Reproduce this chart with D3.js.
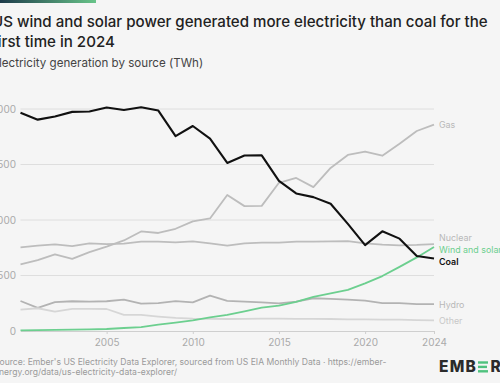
<!DOCTYPE html>
<meta charset="utf-8">
<style>
  body { margin: 0; background: #f5f5f5; }
  svg { display: block; font-family: Inter, "Noto Sans", sans-serif; }
</style>
<script src="https://d3js.org/d3.v7.min.js"></script>
<div id="chart"></div>
<script>
// years 2000..2024
var years = d3.range(2000, 2025);

var coal = [1966, 1904, 1933, 1974, 1978, 2013, 1991, 2016, 1986, 1756, 1847, 1733, 1514, 1581, 1582, 1352, 1239, 1206, 1146, 965, 774, 898, 832, 675, 653];
var gas = [601, 639, 691, 650, 710, 761, 816, 897, 883, 921, 988, 1014, 1226, 1125, 1127, 1335, 1379, 1296, 1469, 1586, 1617, 1579, 1687, 1802, 1860];
var nuclear = [754, 769, 780, 764, 789, 782, 787, 806, 806, 799, 807, 790, 769, 789, 797, 797, 805, 805, 807, 809, 790, 778, 772, 775, 782];
var windSolar = [6, 7, 11, 12, 15, 18, 27, 35, 57, 75, 96, 122, 145, 177, 210, 229, 263, 307, 338, 370, 429, 495, 578, 663, 757];
var hydro = [270, 208, 261, 268, 265, 268, 283, 247, 252, 270, 258, 318, 272, 265, 257, 248, 265, 295, 290, 283, 273, 252, 252, 243, 243];
var other = [192, 205, 175, 200, 200, 198, 145, 145, 130, 118, 112, 110, 108, 110, 112, 112, 110, 110, 108, 105, 104, 102, 103, 98, 96];

var seriesNames = ["Gas", "Nuclear", "Hydro", "Other", "Wind and solar", "Coal"];
var seriesValues = [gas, nuclear, hydro, other, windSolar, coal];
var seriesColors = ["#bdbdbd", "#bdbdbd", "#b3b3b3", "#d6d6d6", "#6ccf8f", "#111111"];
var labelColors = ["#b8b8b8", "#b8b8b8", "#b8b8b8", "#c8c8c8", "#6ccf8f", "#111111"];

var yTicks = [0, 500, 1000, 1500, 2000];
var xTicks = [2005, 2010, 2015, 2020, 2024];

var W = 500, H = 383;
var svg = d3.select("#chart").append("svg")
  .attr("width", W).attr("height", H);

svg.append("rect").attr("width", W).attr("height", H).attr("fill", "#f5f5f5");

// top brand bar
var grad = svg.append("defs").append("linearGradient").attr("id", "bar");
grad.append("stop").attr("offset", "0%").attr("stop-color", "#1d3b4a");
grad.append("stop").attr("offset", "100%").attr("stop-color", "#68c489");
svg.append("rect").attr("x", 0).attr("y", 0).attr("width", 96).attr("height", 3).attr("fill", "url(#bar)");

// title (the reference crops its left edge a little)
svg.append("text").attr("x", -8).attr("y", 27)
  .attr("font-size", 15.1).attr("font-weight", 500).attr("fill", "#222")
  .text("US wind and solar power generated more electricity than coal for the");
svg.append("text").attr("x", -8).attr("y", 47)
  .attr("font-size", 15.1).attr("font-weight", 500).attr("fill", "#222")
  .text("first time in 2024");
svg.append("text").attr("x", -8).attr("y", 67)
  .attr("font-size", 11.6).attr("fill", "#444")
  .text("Electricity generation by source (TWh)");

var x = d3.scaleLinear().domain([2000, 2024]).range([20.5, 434]);
var y = d3.scaleLinear().domain([0, 2000]).range([331, 109]);

// gridlines
svg.append("g").selectAll("line").data(yTicks.slice(1)).enter().append("line")
  .attr("x1", x(2000)).attr("x2", x(2024))
  .attr("y1", function(d) { return y(d); }).attr("y2", function(d) { return y(d); })
  .attr("stroke", "#dedede").attr("stroke-width", 1);

// y labels
svg.append("g").selectAll("text").data(yTicks).enter().append("text")
  .attr("x", 16).attr("y", function(d) { return y(d) + 3.5; })
  .attr("text-anchor", "end").attr("font-size", 10).attr("fill", "#aaa")
  .text(function(d) { return d3.format(",")(d); });

// x axis
var xAxis = svg.append("g").attr("transform", "translate(0," + y(0) + ")")
  .call(d3.axisBottom(x).tickValues(xTicks).tickFormat(d3.format("d")).tickSize(3).tickSizeOuter(0));
xAxis.select(".domain").attr("stroke", "#cfcfcf");
xAxis.selectAll(".tick line").attr("stroke", "#cfcfcf");
xAxis.selectAll(".tick text").attr("fill", "#aaa").attr("font-size", 10)
  .attr("font-family", "Inter, 'Noto Sans', sans-serif").attr("dy", "0.9em");

// lines
var line = d3.line()
  .x(function(d, i) { return x(years[i]); })
  .y(function(d) { return y(d); });

svg.append("g").selectAll("path").data(seriesValues).enter().append("path")
  .attr("fill", "none")
  .attr("stroke", function(d, i) { return seriesColors[i]; })
  .attr("stroke-width", function(d, i) { return seriesNames[i] == "Coal" ? 2.1 : 1.8; })
  .attr("stroke-linejoin", "round")
  .attr("d", line);

// end labels, dodged so they don't overlap
var labels = seriesNames.map(function(n, i) {
  var v = seriesValues[i];
  return { name: n, i: i, y: y(v[v.length - 1]) };
});
labels.sort(function(a, b) { return a.y - b.y; });
for (var k = 0; k < 50; k++) {
  for (var j = 1; j < labels.length; j++) {
    var gap = labels[j].y - labels[j - 1].y;
    if (gap < 12) {
      var push = (12 - gap) / 2;
      labels[j].y += push;
      labels[j - 1].y -= push;
    }
  }
}
svg.append("g").selectAll("text").data(labels).enter().append("text")
  .attr("x", x(2024) + 5)
  .attr("y", function(d) { return d.y + 3.5; })
  .attr("font-size", 8.9)
  .attr("font-weight", function(d) { return d.name == "Coal" ? 600 : 400; })
  .attr("fill", function(d) { return labelColors[d.i]; })
  .text(function(d) { return d.name; });

// source
svg.append("text").attr("x", -6).attr("y", 364.5)
  .attr("font-size", 8.6).attr("fill", "#9a9a9a")
  .text("Source: Ember's US Electricity Data Explorer, sourced from US EIA Monthly Data · https://ember-");
svg.append("text").attr("x", -6).attr("y", 375)
  .attr("font-size", 8.6).attr("fill", "#9a9a9a")
  .text("energy.org/data/us-electricity-data-explorer/");

// logo: EMB, three green bars for the E, then R
var logo = svg.append("g");
var emb = logo.append("text").attr("x", 439).attr("y", 372.3)
  .attr("font-size", 15.5).attr("font-weight", 800).attr("fill", "#2b2b2b")
  .attr("letter-spacing", 1.2).text("EMB");
var ex = 439 + emb.node().getComputedTextLength() + 1;
[0, 1, 2].forEach(function(k) {
  logo.append("rect").attr("x", ex).attr("y", 361.3 + k * 4.4)
    .attr("width", k == 1 ? 9 : 10).attr("height", 2.4).attr("fill", "#4fc27e");
});
logo.append("text").attr("x", ex + 12.5).attr("y", 372.3)
  .attr("font-size", 15.5).attr("font-weight", 800).attr("fill", "#2b2b2b")
  .text("R");
</script>
